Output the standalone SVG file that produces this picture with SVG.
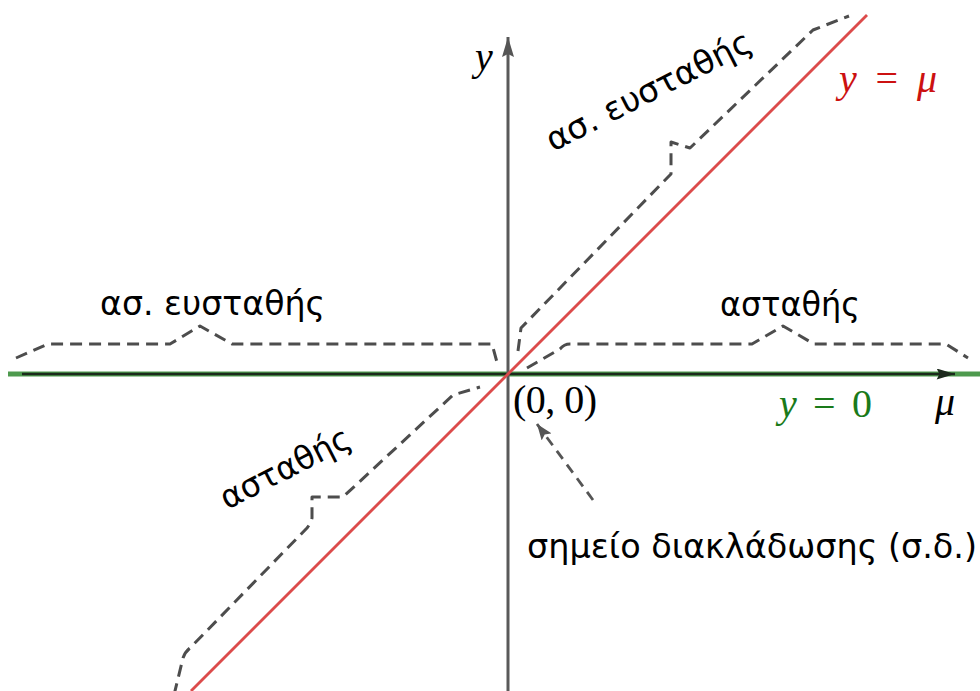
<svg xmlns="http://www.w3.org/2000/svg" width="980" height="691" viewBox="0 0 980 691">
<defs>
<marker id="ahGray" viewBox="0 0 20 12" refX="20" refY="6" markerWidth="20" markerHeight="12" markerUnits="userSpaceOnUse" orient="auto"><path d="M0,0 L20,6 L0,12 L3,6 Z" fill="#555"/></marker>
<marker id="ahDark" viewBox="0 0 20 12" refX="20" refY="6" markerWidth="19" markerHeight="11" markerUnits="userSpaceOnUse" orient="auto"><path d="M0,0 L20,6 L0,12 L3,6 Z" fill="#1c2a1c"/></marker>
<marker id="ahPtr" viewBox="0 0 16 12" refX="16" refY="6" markerWidth="16" markerHeight="12" markerUnits="userSpaceOnUse" orient="auto"><path d="M0,0 L16,6 L0,12 L3,6 Z" fill="#555"/></marker>
</defs>
<style>
.brace{fill:none;stroke:#4d4d4d;stroke-width:3;stroke-dasharray:12 7;stroke-linejoin:round}
.gr{font-family:"DejaVu Sans","Noto Sans",sans-serif;fill:#000;font-size:33px}
.math{font-family:"Liberation Serif","DejaVu Serif",serif;font-size:40px}
.it{font-style:italic}
</style>
<rect width="980" height="691" fill="#fff"/>
<g id="lines">
<line id="y0line" x1="8" y1="374" x2="980" y2="374" stroke="#4e9a4e" stroke-width="5"/>
<line id="xaxis" x1="22" y1="374" x2="955" y2="374" stroke="#1c2a1c" stroke-width="2.5" marker-end="url(#ahDark)"/>
<line id="yaxis" x1="508" y1="691" x2="508" y2="37" stroke="#5a5a5a" stroke-width="3" marker-end="url(#ahGray)"/>
<line id="ymu" x1="191" y1="691" x2="867" y2="15" stroke="#dc4b4b" stroke-width="2.8"/>
</g>
<g id="connectors">
<path class="brace" d="M16,358 L48,344 L170,344 L200,326 L232,344 L492,344 L498,366"/>
<path class="brace" d="M527,368 L560,349 Q564,344 570,344 L752,344 L783,326 L814,344 L946,344 L968,358"/>
<path class="brace" d="M518,351 L521,328 L671,174 L671,142 L690,148 L813,30 L849,16"/>
<path class="brace" d="M174,695 L183,658 Q185,652 190,648 L307,528 Q311,523 312,518 L312,497 L343,497 L453,395 L480,387"/>
<path d="M593,500 L537,424" fill="none" stroke="#555" stroke-width="2.8" stroke-dasharray="10 7" marker-end="url(#ahPtr)"/>
</g>
<g id="labels">
<text class="math it" x="475" y="70">y</text>
<text class="math" x="839" y="92" fill="#cc1111" textLength="98"><tspan class="it">y</tspan> = <tspan class="it">μ</tspan></text>
<text class="math" x="513" y="413" textLength="84">(0, 0)</text>
<text class="math" x="779" y="417" fill="#1a7a1a" textLength="93"><tspan class="it">y</tspan> = 0</text>
<text class="math it" x="935" y="415">μ</text>
<text class="gr" x="100" y="315" textLength="225" lengthAdjust="spacingAndGlyphs">ασ. ευσταθής</text>
<text class="gr" x="720" y="316" textLength="140" lengthAdjust="spacingAndGlyphs">ασταθής</text>
<text class="gr" transform="translate(553,152) rotate(-27)" textLength="226" lengthAdjust="spacingAndGlyphs">ασ. ευσταθής</text>
<text class="gr" transform="translate(227,510) rotate(-27)" textLength="142" lengthAdjust="spacingAndGlyphs">ασταθής</text>
<text class="gr" x="527" y="558" textLength="450" lengthAdjust="spacingAndGlyphs">σημείο διακλάδωσης (σ.δ.)</text>
</g>
</svg>
